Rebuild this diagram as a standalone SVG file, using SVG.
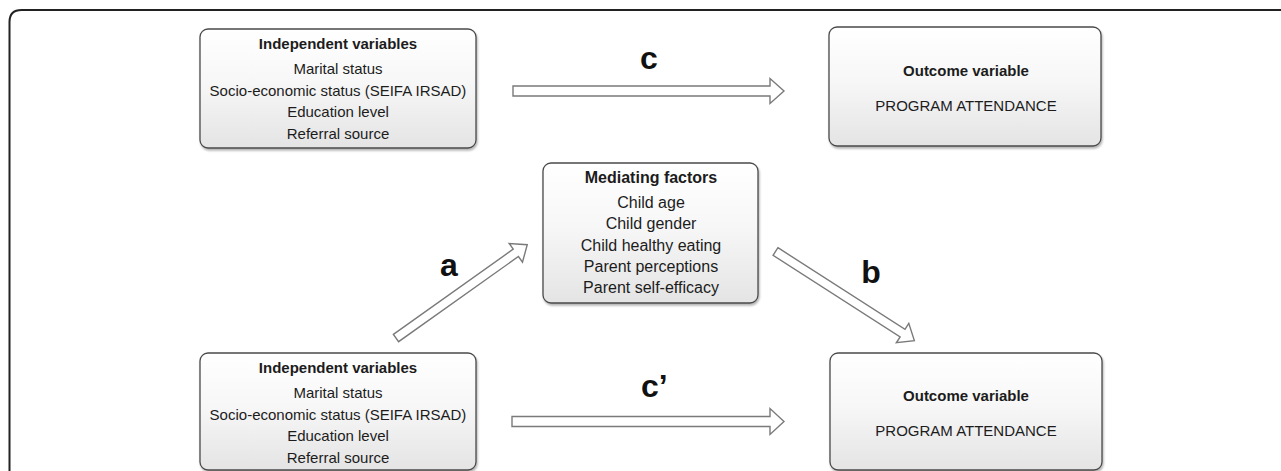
<svg xmlns="http://www.w3.org/2000/svg" width="1281" height="471" viewBox="0 0 1281 471">
<defs>
<linearGradient id="boxfill" x1="0" y1="0" x2="0" y2="1">
<stop offset="0" stop-color="#ffffff"/>
<stop offset="0.45" stop-color="#f7f7f7"/>
<stop offset="1" stop-color="#e4e4e4"/>
</linearGradient>
<filter id="sh" x="-5%" y="-5%" width="110%" height="115%">
<feGaussianBlur in="SourceAlpha" stdDeviation="1.2"/>
<feOffset dx="1" dy="1.5" result="b"/>
<feComponentTransfer><feFuncA type="linear" slope="0.3"/></feComponentTransfer>
<feMerge><feMergeNode/><feMergeNode in="SourceGraphic"/></feMerge>
</filter>
</defs>
<style>
.box{fill:url(#boxfill);stroke:#4a4a4a;stroke-width:1.3;filter:url(#sh)}
.t{font-family:"Liberation Sans",Arial,sans-serif;font-size:15px;fill:#1c1c1c;text-anchor:middle}
.m{font-size:16px}
.h{font-weight:bold}
.arrow{fill:#ffffff;stroke:#7a7a7a;stroke-width:1.4;stroke-linejoin:miter}
.lbl{font-family:"Liberation Sans",Arial,sans-serif;font-size:32px;font-weight:bold;fill:#111}
</style>
<rect width="1281" height="471" fill="#ffffff"/>
<path d="M9.5,480 V22 Q9.5,10 21.5,10 H1290" fill="none" stroke="#222" stroke-width="2"/>

<g id="iv-top">
<rect class="box" x="200" y="29" width="276" height="119" rx="8"/>
<text class="t h" x="338" y="48.5">Independent variables</text>
<text class="t" x="338" y="74">Marital status</text>
<text class="t" x="338" y="95.5">Socio-economic status (SEIFA IRSAD)</text>
<text class="t" x="338" y="117">Education level</text>
<text class="t" x="338" y="139">Referral source</text>
</g>

<g id="outcome-top">
<rect class="box" x="829" y="27" width="272" height="119" rx="8"/>
<text class="t h" x="966" y="75.5">Outcome variable</text>
<text class="t" x="966" y="110.5">PROGRAM ATTENDANCE</text>
</g>

<g id="mediators">
<rect class="box" x="543" y="163" width="215" height="140" rx="8"/>
<text class="t m h" x="651" y="182.5">Mediating factors</text>
<text class="t m" x="651" y="208">Child age</text>
<text class="t m" x="651" y="229.2">Child gender</text>
<text class="t m" x="651" y="250.5">Child healthy eating</text>
<text class="t m" x="651" y="271.8">Parent perceptions</text>
<text class="t m" x="651" y="293">Parent self-efficacy</text>
</g>

<g id="iv-bottom">
<rect class="box" x="200" y="353" width="276" height="117" rx="8"/>
<text class="t h" x="338" y="372.5">Independent variables</text>
<text class="t" x="338" y="398">Marital status</text>
<text class="t" x="338" y="419.5">Socio-economic status (SEIFA IRSAD)</text>
<text class="t" x="338" y="441">Education level</text>
<text class="t" x="338" y="462.7">Referral source</text>
</g>

<g id="outcome-bottom">
<rect class="box" x="830" y="353" width="272" height="117" rx="8"/>
<text class="t h" x="966" y="400.5">Outcome variable</text>
<text class="t" x="966" y="435.5">PROGRAM ATTENDANCE</text>
</g>

<g id="connectors">
<path class="arrow" d="M513,86 H770 V78.5 L784,91 L770,103.5 V96 H513 Z"/>
<path class="arrow" d="M512,416.5 H770 V408.5 L784,421.5 L770,434.5 V426.5 H512 Z"/>
<path class="arrow" transform="translate(396,338) rotate(-35.4)" d="M0,-4.5 H147 V-11.5 L161,0 L147,11.5 V4.5 H0 Z"/>
<path class="arrow" transform="translate(775.5,251.5) rotate(32.7)" d="M0,-4.5 H151 V-11.5 L165,0 L151,11.5 V4.5 H0 Z"/>
<text class="lbl" x="649" y="69" text-anchor="middle">c</text>
<text class="lbl" x="641" y="397">c’</text>
<text class="lbl" x="449" y="276" text-anchor="middle">a</text>
<text class="lbl" x="871" y="283" text-anchor="middle">b</text>
</g>
</svg>
